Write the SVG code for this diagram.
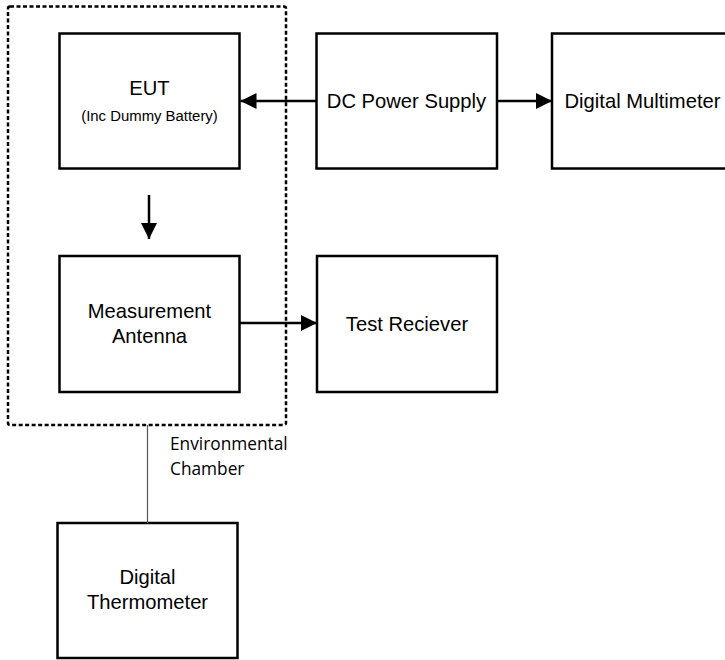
<svg xmlns="http://www.w3.org/2000/svg" width="725" height="660" viewBox="0 0 725 660">
  <style>
    .box { fill: #ffffff; stroke: #000000; stroke-width: 2.5; }
    .lbl { font-family: "Liberation Sans", Arial, sans-serif; font-size: 20.2px; fill: #000000; text-anchor: middle; }
    .sub { font-family: "Liberation Sans", Arial, sans-serif; font-size: 14.9px; fill: #000000; text-anchor: middle; }
    .note { font-family: "Open Sans", "Liberation Sans", sans-serif; font-size: 17.3px; fill: #000000; }
    .wire { stroke: #000000; stroke-width: 2.5; fill: none; }
  </style>
  <defs>
    <marker id="arrow" viewBox="0 0 16 16" refX="16" refY="8" markerUnits="userSpaceOnUse" markerWidth="16" markerHeight="16" orient="auto">
      <path d="M0,0 L16,8 L0,16 Z" fill="#000000"/>
    </marker>
  </defs>

  <rect width="725" height="660" fill="#ffffff"/>

  <!-- chamber enclosure -->
  <g id="chamber">
    <rect x="8" y="6.5" width="278" height="418.5" rx="2" fill="none" stroke="#000000" stroke-width="2.5" stroke-dasharray="4 2.5"/>
    <text class="note" x="170" y="450">Environmental</text>
    <text class="note" x="170" y="475">Chamber</text>
  </g>

  <g id="eut">
    <rect class="box" x="59.5" y="33.5" width="180" height="135"/>
    <text class="lbl" x="149.5" y="95">EUT</text>
    <text class="sub" x="149.5" y="121">(Inc Dummy Battery)</text>
  </g>

  <g id="dc-power-supply">
    <rect class="box" x="316.5" y="33.5" width="180.5" height="135"/>
    <text class="lbl" x="406.5" y="108">DC Power Supply</text>
  </g>

  <g id="digital-multimeter">
    <rect class="box" x="552" y="33.5" width="181" height="135"/>
    <text class="lbl" x="642.5" y="108">Digital Multimeter</text>
  </g>

  <g id="measurement-antenna">
    <rect class="box" x="59.5" y="256" width="180" height="136"/>
    <text class="lbl" x="149.5" y="318">Measurement</text>
    <text class="lbl" x="149.5" y="343">Antenna</text>
  </g>

  <g id="test-receiver">
    <rect class="box" x="317" y="256" width="180" height="136"/>
    <text class="lbl" x="407" y="331">Test Reciever</text>
  </g>

  <g id="digital-thermometer">
    <rect class="box" x="57.5" y="523" width="180" height="135"/>
    <text class="lbl" x="147.5" y="584">Digital</text>
    <text class="lbl" x="147.5" y="609">Thermometer</text>
  </g>

  <g id="connectors">
    <line class="wire" x1="316.5" y1="101" x2="240.5" y2="101" marker-end="url(#arrow)"/>
    <line class="wire" x1="497" y1="101" x2="552" y2="101" marker-end="url(#arrow)"/>
    <line class="wire" x1="149" y1="195" x2="149" y2="239" marker-end="url(#arrow)"/>
    <line class="wire" x1="239.5" y1="323" x2="317" y2="323" marker-end="url(#arrow)"/>
    <line x1="147.5" y1="425" x2="147.5" y2="523" stroke="#555555" stroke-width="1.2"/>
  </g>
</svg>
